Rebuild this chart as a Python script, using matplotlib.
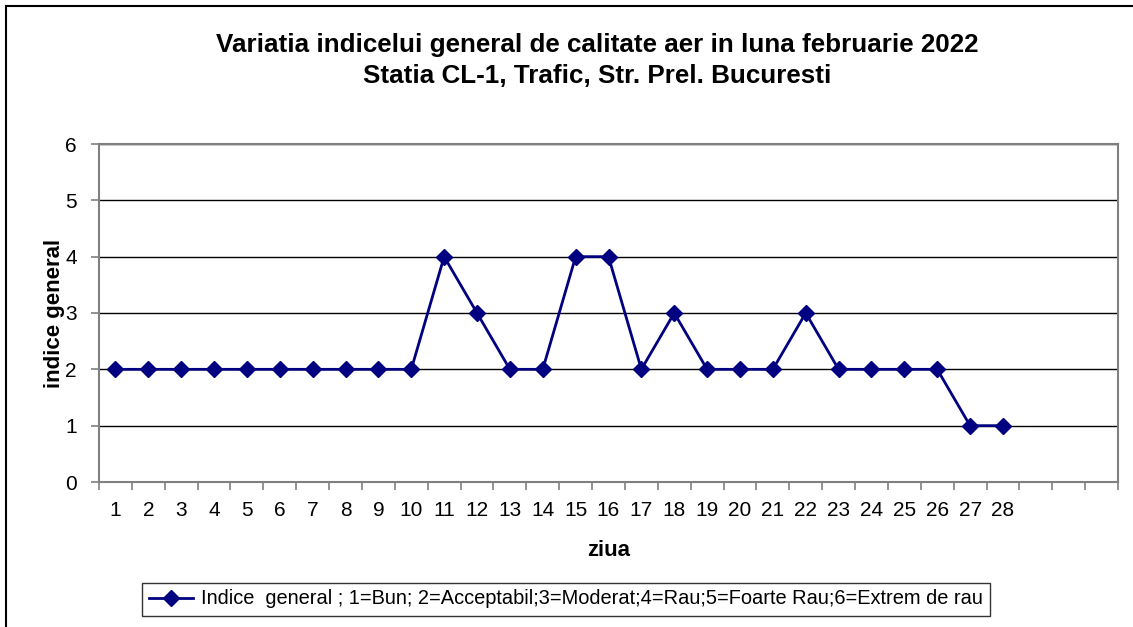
import matplotlib
matplotlib.use("Agg")
import matplotlib.pyplot as plt
from matplotlib.lines import Line2D
import numpy as np

plt.rcParams['font.family'] = ['Liberation Sans', 'DejaVu Sans']

days = list(range(1, 29))
values = [2, 2, 2, 2, 2, 2, 2, 2, 2, 2, 4, 3, 2, 2, 4, 4, 2, 3, 2, 2, 2, 3, 2, 2, 2, 2, 1, 1]
n_slots = 31
yticks = [0, 1, 2, 3, 4, 5, 6]
title1 = "Variatia indicelui general de calitate aer in luna februarie 2022"
title2 = "Statia CL-1, Trafic, Str. Prel. Bucuresti"
xlabel = "ziua"
ylabel = "indice general"
legend_label = "Indice  general ; 1=Bun; 2=Acceptabil;3=Moderat;4=Rau;5=Foarte Rau;6=Extrem de rau"

W, H = 1133, 627
fig = plt.figure(figsize=(W / 100, H / 100), dpi=100)
ax = fig.add_axes([99 / W, 1 - 482 / H, (1118 - 99) / W, (482 - 144) / H])

navy = "#000080"
line, = ax.plot(days, values, color=navy, lw=2, marker='D', ms=8,
                markerfacecolor=navy, markeredgecolor=navy, zorder=3)

ax.set_xlim(0.5, n_slots + 0.5)
ax.set_ylim(0, 6)
ax.set_yticks(yticks)
ax.set_yticklabels([str(v) for v in yticks], fontsize=15)
ax.yaxis.grid(True, color='black', lw=1)
ax.set_axisbelow(True)

ax.set_xticks(np.arange(0.5, n_slots + 1, 1))
ax.set_xticklabels([])
ax.set_xticks(days, minor=True)
ax.set_xticklabels([str(d) for d in days], minor=True, fontsize=15)
ax.tick_params(axis='x', which='major', length=6, color='#808080', width=1.2)
ax.tick_params(axis='x', which='minor', length=0, pad=14)
ax.tick_params(axis='y', length=6, color='#808080', width=1.2, pad=10)

for s in ax.spines.values():
    s.set_color('#808080')
    s.set_linewidth(1.5)

ax.set_xlabel(xlabel, fontsize=16, fontweight='bold', labelpad=14)
ax.set_ylabel(ylabel, fontsize=16, fontweight='bold', labelpad=0)

fig.text(597 / W, 1 - 45 / H, title1, ha='center', va='center', fontsize=18.7, fontweight='bold')
fig.text(597 / W, 1 - 76 / H, title2, ha='center', va='center', fontsize=18.7, fontweight='bold')

leg = fig.legend([line], [legend_label], loc='center', bbox_to_anchor=(566 / W, 1 - 599 / H),
                 fontsize=14.4, frameon=True, fancybox=False, edgecolor='black',
                 handlelength=2.2, borderpad=0.35, handletextpad=0.4)
leg.get_frame().set_linewidth(1)

fig.add_artist(Line2D([6 / W, 6 / W], [0, 1 - 6 / H], transform=fig.transFigure, color='black', lw=1.5))
fig.add_artist(Line2D([6 / W, 1], [1 - 6 / H, 1 - 6 / H], transform=fig.transFigure, color='black', lw=1.5))

fig.savefig("out.png", dpi=100)
